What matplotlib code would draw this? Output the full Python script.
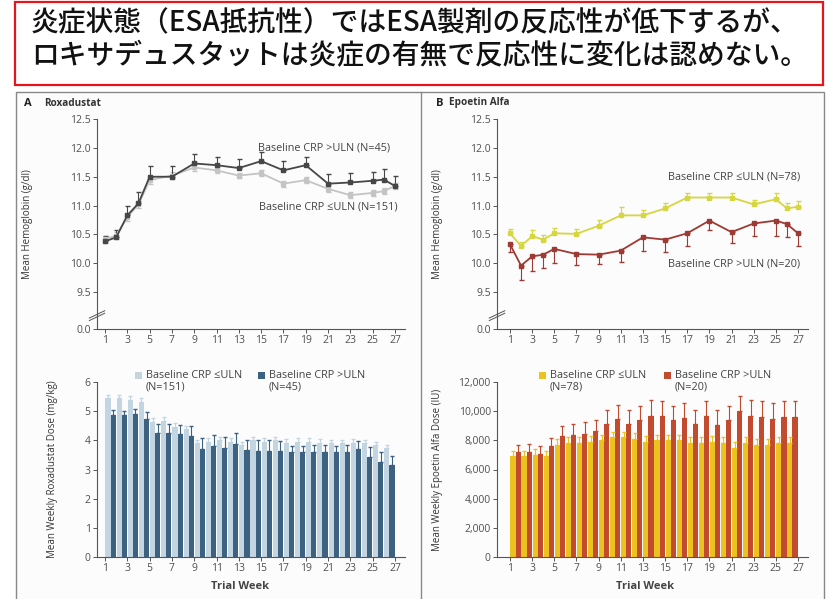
import numpy as np
import matplotlib
matplotlib.use("Agg")
import matplotlib.pyplot as plt
from matplotlib.patches import Rectangle
from matplotlib.lines import Line2D

plt.rcParams['font.family'] = ['Open Sans', 'DejaVu Sans']

title_lines = ["炎症状態（ESA抵抗性）ではESA製剤の反応性が低下するが、",
               "ロキサデュスタットは炎症の有無で反応性に変化は認めない。"]

# hemoglobin line data (weeks with visits)
hb_weeks = [1, 2, 3, 4, 5, 7, 9, 11, 13, 15, 17, 19, 21, 23, 25, 26, 27]
roxa_hb_high = [10.38, 10.45, 10.83, 11.04, 11.50, 11.50, 11.73, 11.70, 11.65, 11.77,
                11.61, 11.70, 11.38, 11.40, 11.43, 11.45, 11.34]
roxa_hb_high_err = [0.10, 0.13, 0.16, 0.20, 0.18, 0.18, 0.16, 0.15, 0.15, 0.15,
                    0.17, 0.15, 0.16, 0.16, 0.16, 0.18, 0.17]
roxa_hb_low = [10.42, 10.48, 10.80, 11.02, 11.44, 11.52, 11.66, 11.61, 11.52, 11.56,
               11.38, 11.44, 11.29, 11.18, 11.22, 11.25, 11.34]
roxa_hb_low_err = [0.06, 0.06, 0.06, 0.06, 0.06, 0.06, 0.06, 0.05, 0.05, 0.05,
                   0.05, 0.05, 0.05, 0.05, 0.05, 0.05, 0.05]

epo_hb_low = [10.52, 10.30, 10.47, 10.41, 10.52, 10.51, 10.65, 10.83, 10.83, 10.95,
              11.14, 11.14, 11.14, 11.02, 11.11, 10.95, 10.98]
epo_hb_low_err = [0.07, 0.07, 0.10, 0.08, 0.10, 0.08, 0.10, 0.14, 0.10, 0.10,
                  0.08, 0.08, 0.07, 0.07, 0.10, 0.09, 0.10]
epo_hb_high = [10.33, 9.96, 10.12, 10.15, 10.25, 10.16, 10.15, 10.22, 10.45, 10.41,
               10.52, 10.74, 10.54, 10.69, 10.74, 10.68, 10.52]
epo_hb_high_err = [0.14, 0.25, 0.25, 0.23, 0.25, 0.19, 0.17, 0.19, 0.23, 0.21,
                   0.22, 0.17, 0.19, 0.21, 0.26, 0.23, 0.22]

# weekly dose bars
dose_weeks = np.arange(1, 27)
roxa_dose_low = [5.45, 5.45, 5.39, 5.33, 4.64, 4.68, 4.47, 4.38, 3.90, 3.96, 4.00, 3.96, 3.84,
                 4.00, 3.96, 4.00, 3.92, 3.96, 3.96, 3.92, 3.90, 3.90, 3.92, 3.90, 3.84, 3.73]
roxa_dose_high = [4.87, 4.87, 4.91, 4.72, 4.24, 4.24, 4.21, 4.15, 3.69, 3.82, 3.74, 3.86, 3.67,
                  3.65, 3.65, 3.62, 3.59, 3.59, 3.59, 3.59, 3.59, 3.59, 3.69, 3.44, 3.27, 3.15]
roxa_dose_low_err = [0.12] * 26
roxa_dose_high_err = [0.17, 0.15, 0.15, 0.25, 0.33, 0.33, 0.33, 0.35, 0.38, 0.38, 0.38, 0.38, 0.35,
                      0.35, 0.35, 0.35, 0.22, 0.22, 0.25, 0.25, 0.22, 0.25, 0.30, 0.33, 0.33, 0.33]

epo_dose_low = [6900, 6900, 7000, 6900, 7700, 7800, 7800, 7900, 8000, 8200, 8200, 8100, 7900,
                8000, 8000, 8000, 7800, 7800, 7900, 7800, 7500, 7800, 7700, 7700, 7800, 7800]
epo_dose_high = [7200, 7200, 7060, 7590, 8280, 8390, 8460, 8620, 9130, 9470, 9130, 9380, 9700,
                 9650, 9380, 9540, 9150, 9700, 9080, 9380, 10000, 9700, 9610, 9470, 9610, 9610]
epo_dose_low_err = [400] * 26
epo_dose_high_err = [500, 520, 540, 570, 730, 750, 780, 800, 940, 920, 950, 950, 1040,
                     1030, 1000, 1000, 950, 1000, 970, 1000, 1030, 1100, 1100, 1100, 1100, 1100]

xticks = list(range(1, 28, 2))

W, H = 827, 599
fig = plt.figure(figsize=(W / 100, H / 100), dpi=100)

def fx(px):
    return px / W

def fy(py):
    return 1 - py / H

# red title box
fig.patches.append(Rectangle((fx(15), fy(85)), fx(808), 83 / H, transform=fig.transFigure,
                             fill=False, edgecolor='#e8141c', linewidth=1.6))
for i, line in enumerate(title_lines):
    fig.text(fx(31), fy(23 + 33 * i), line, fontsize=20, va='center', ha='left',
             family=['Noto Sans CJK JP', 'DejaVu Sans'], fontweight='medium', color='#111111')

# grey figure frame (behind the axes)
fig.patches.append(Rectangle((fx(16), fy(602)), fx(808), 510 / H, transform=fig.transFigure,
                             fill=True, facecolor='#fcfcfc', edgecolor='#888888', linewidth=1.0,
                             zorder=-5))
fig.lines.append(Line2D([fx(421), fx(421)], [fy(92), fy(600)], transform=fig.transFigure,
                        color='#888888', linewidth=1.0, zorder=-4))

fig.text(fx(24), fy(103), "A", fontsize=8, fontweight='bold', va='center', color='#222222')
fig.text(fx(44), fy(103), "Roxadustat", fontsize=7.2, fontweight='bold', va='center', color='#333333')
fig.text(fx(436), fy(103), "B", fontsize=8, fontweight='bold', va='center', color='#222222')
fig.text(fx(449), fy(103), "Epoetin Alfa", fontsize=7.2, fontweight='bold', va='center', color='#333333')

tick_color = '#505050'
tick_size = 7.5

def style_axes(ax):
    for s in ['top', 'right']:
        ax.spines[s].set_visible(False)
    for s in ['left', 'bottom']:
        ax.spines[s].set_color('#555555')
        ax.spines[s].set_linewidth(0.8)
    ax.tick_params(axis='both', colors='#555555', labelcolor=tick_color, labelsize=tick_size,
                   length=3, width=0.7, pad=1.5)
    ax.set_xticks(xticks)
    ax.set_facecolor('none')

def label_at(ax, px, left, right, text):
    ax.set_ylabel(text, fontsize=7, color='#333333')
    ax.yaxis.set_label_coords((px - left) / (right - left), 0.5)

def hb_axes(left, right, xmin, label_px):
    ax = fig.add_axes([fx(left), fy(329), fx(right - left), 210 / H])
    style_axes(ax)
    ybot = 9.5 - 37 / 58
    ax.set_ylim(ybot, 12.5)
    ax.set_xlim(xmin, 27.9)
    ax.set_yticks([ybot, 9.5, 10.0, 10.5, 11.0, 11.5, 12.0, 12.5])
    ax.set_yticklabels(['0.0', '9.5', '10.0', '10.5', '11.0', '11.5', '12.0', '12.5'])
    # axis break marks
    for dy in (0.0, 0.012):
        ax.plot([-0.025, 0.025], [0.04 + dy, 0.075 + dy], transform=ax.transAxes,
                color='#555555', linewidth=0.7, clip_on=False)
    label_at(ax, label_px, left, right, "Mean Hemoglobin (g/dl)")
    return ax

def dose_axes(left, right, xmin, ymax, label_px, text, week_px):
    ax = fig.add_axes([fx(left), fy(557), fx(right - left), 175 / H])
    style_axes(ax)
    ax.set_ylim(0, ymax)
    ax.set_xlim(xmin, 27.9)
    ax.set_xlabel("Trial Week", fontsize=8, fontweight='bold', color='#444444')
    ax.xaxis.set_label_coords((week_px - left) / (right - left), -0.135)
    label_at(ax, label_px, left, right, text)
    return ax

def legend_entry(px, py, color, line1, line2):
    fig.patches.append(Rectangle((fx(px), fy(py + 4)), fx(7), 7 / H, transform=fig.transFigure,
                                 facecolor=color, edgecolor='none'))
    fig.text(fx(px + 11), fy(py), line1, fontsize=7.8, va='center', ha='left', color='#444444')
    fig.text(fx(px + 11), fy(py + 12), line2, fontsize=7.8, va='center', ha='left', color='#444444')

# ---- A: roxadustat hemoglobin
ax1 = hb_axes(97, 405, 0.28, 33)
ax1.errorbar(hb_weeks, roxa_hb_low, yerr=roxa_hb_low_err, color='#c4c4c4', marker='s',
             markersize=2.5, linewidth=1.3, capsize=1.8, elinewidth=0.8)
ax1.errorbar(hb_weeks, roxa_hb_high, yerr=[[0] * 17, roxa_hb_high_err], color='#474747',
             marker='s', markersize=2.5, linewidth=1.3, capsize=1.8, elinewidth=0.8)
ax1.text(26.6, 12.0, "Baseline CRP >ULN (N=45)", fontsize=7.8, ha='right', va='center', color='#444444')
ax1.text(27.2, 10.98, "Baseline CRP ≤ULN (N=151)", fontsize=7.8, ha='right', va='center', color='#444444')

# ---- B: epoetin hemoglobin
ax2 = hb_axes(497, 808, -0.17, 443)
ax2.errorbar(hb_weeks, epo_hb_low, yerr=[[0] * 17, epo_hb_low_err], color='#d6d640', marker='s',
             markersize=2.5, linewidth=1.3, capsize=1.8, elinewidth=0.8)
ax2.errorbar(hb_weeks, epo_hb_high, yerr=[epo_hb_high_err, [0] * 17], color='#9e3a34',
             marker='s', markersize=2.5, linewidth=1.3, capsize=1.8, elinewidth=0.8)
ax2.text(27.2, 11.49, "Baseline CRP ≤ULN (N=78)", fontsize=7.8, ha='right', va='center', color='#444444')
ax2.text(27.2, 9.98, "Baseline CRP >ULN (N=20)", fontsize=7.8, ha='right', va='center', color='#444444')

# ---- A: roxadustat dose
ax3 = dose_axes(97, 405, 0.28, 6, 58, "Mean Weekly Roxadustat Dose (mg/kg)", 240)
ax3.set_yticks(range(0, 7))
ax3.bar(dose_weeks + 0.27, roxa_dose_low, width=0.46, color='#c4d5e2',
        yerr=[[0] * 26, roxa_dose_low_err], error_kw=dict(ecolor='#c4d5e2', capsize=1.5, elinewidth=0.8))
ax3.bar(dose_weeks + 0.73, roxa_dose_high, width=0.46, color='#3d6180',
        yerr=[[0] * 26, roxa_dose_high_err], error_kw=dict(ecolor='#3d6180', capsize=1.5, elinewidth=0.8))
legend_entry(135, 375, '#c4d5e2', "Baseline CRP ≤ULN", "(N=151)")
legend_entry(258, 375, '#3d6180', "Baseline CRP >ULN", "(N=45)")

# ---- B: epoetin dose
ax4 = dose_axes(497, 808, -0.17, 12000, 443, "Mean Weekly Epoetin Alfa Dose (IU)", 645)
ax4.set_yticks(range(0, 12001, 2000))
ax4.set_yticklabels([f"{v:,}" for v in range(0, 12001, 2000)])
ax4.bar(dose_weeks + 0.27, epo_dose_low, width=0.46, color='#ecc21f',
        yerr=[[0] * 26, epo_dose_low_err], error_kw=dict(ecolor='#ecc21f', capsize=1.5, elinewidth=0.8))
ax4.bar(dose_weeks + 0.73, epo_dose_high, width=0.46, color='#c24a2e',
        yerr=[[0] * 26, epo_dose_high_err], error_kw=dict(ecolor='#c24a2e', capsize=1.5, elinewidth=0.8))
legend_entry(539, 375, '#ecc21f', "Baseline CRP ≤ULN", "(N=78)")
legend_entry(664, 375, '#c24a2e', "Baseline CRP >ULN", "(N=20)")

fig.savefig("out.png", dpi=100)
